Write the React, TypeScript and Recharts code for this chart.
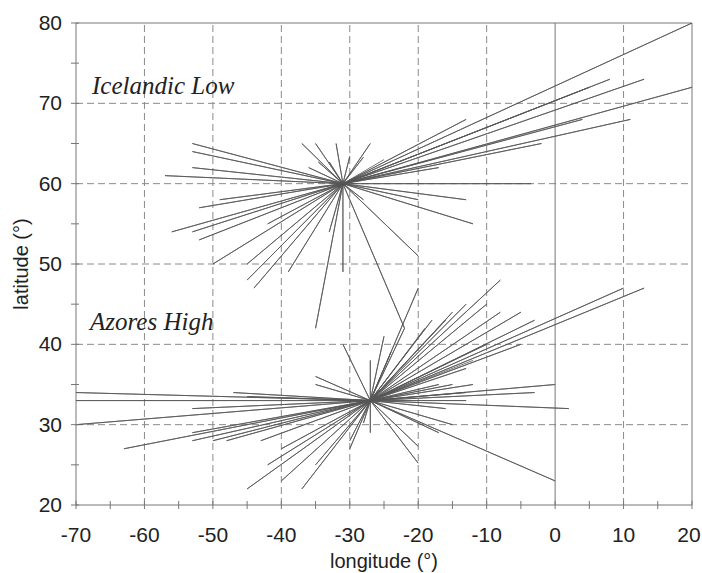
import React from 'react';
import {
  ScatterChart,
  Scatter,
  XAxis,
  YAxis,
  ReferenceLine,
} from 'recharts';

// ---- data ----
const icelandicCenter: [number, number] = [-31, 60];
const icelandicEnds: [number, number][] = [
  [-53, 65], [-53, 64], [-53, 62], [-57, 61], [-49, 58], [-52, 57], [-56, 54], [-53, 54], [-52, 53], [-50, 50],
  [-42, 55], [-45, 50], [-45, 48], [-44, 47], [-39, 49], [-35, 42], [-33, 54], [-31, 49], [-22, 42], [-20, 51],
  [-12, 55], [-13, 58], [-20, 58], [-28, 58], [-3.5, 60],
  [20, 80], [8, 73], [13, 73], [20, 72], [5, 72], [11, 68], [4, 68], [-2, 65], [-13, 68], [-17, 62],
  [-37, 65], [-35, 65], [-32, 65], [-27, 65], [-36, 62], [-34.6, 62.7], [-33, 62.7], [-30, 63.4], [-28, 63.3], [-25, 63],
];

const azoresCenter: [number, number] = [-27, 33];
const azoresEnds: [number, number][] = [
  [-70, 34], [-70, 33], [-70, 30], [-63, 27], [-53, 32], [-47, 34], [-45, 33.5], [-53, 29], [-53, 28], [-50, 28],
  [-48, 28], [-43, 28], [-40, 27], [-42, 25], [-45, 22], [-40, 23], [-37, 22], [-35, 25], [-35, 36], [-35, 35],
  [-31, 40], [-27, 38], [-27, 29], [-25, 41], [-20, 47], [-28, 30.2], [-30, 28], [-30, 27], [-20, 25.2], [-20, 27.3],
  [-8, 48], [-10, 45], [-13, 45], [-8, 44], [-5, 44], [-3, 43], [13, 47], [10, 47], [-5, 40], [-15, 44],
  [-18, 43], [-19, 42], [-16, 43], [-22, 42], [-13, 37], [-12, 35], [0, 35], [-3, 34], [2, 32], [-13, 34],
  [-13, 33], [-15, 35], [-16, 32], [-15, 30], [-17, 29], [0, 23], [-17, 35], [-24, 39], [-10, 40], [-12, 38],
];

const xTicks = [-70, -65, -60, -55, -50, -45, -40, -35, -30, -25, -20, -15, -10, -5, 0, 5, 10, 15, 20];
const yTicks = [20, 25, 30, 35, 40, 45, 50, 55, 60, 65, 70, 75, 80];
const xGridDashed = [-60, -50, -40, -30, -20, -10, 10];
const yGridDashed = [30, 40, 50, 60, 70];
const xSolid = [0, 20];
const ySolid = [80];

const labels = [
  { text: 'Icelandic Low', x: 92, y: 94 },
  { text: 'Azores High', x: 90, y: 330 },
];

// build star paths: center -> end -> center -> end ...
const star = (c: [number, number], ends: [number, number][]) =>
  ends.flatMap(([x, y]) => [
    { x: c[0], y: c[1] },
    { x, y },
  ]);

const icelandicData = star(icelandicCenter, icelandicEnds);
const azoresData = star(azoresCenter, azoresEnds);

const AXIS = '#777';
const LINE = '#555';
const GRID = '#8a8a8a';
const SANS = '"Liberation Sans", Arial, sans-serif';

const NoShape = () => <g />;

const XTick = (props: any) => {
  const { x, y, payload } = props;
  const v = payload.value;
  const dx = v === 20 ? -3 : 0;
  return (
    <g>
      <line x1={x} x2={x} y1={y - 4} y2={y + 4} stroke={AXIS} strokeWidth={1} />
      {v % 10 === 0 && (
        <text x={x + dx} y={y + 37} textAnchor="middle" fontSize={21} fill="#222" fontFamily={SANS}>
          {v}
        </text>
      )}
    </g>
  );
};

const YTick = (props: any) => {
  const { x, y, payload } = props;
  const v = payload.value;
  return (
    <g>
      <line x1={x - 5} x2={x + 3} y1={y} y2={y} stroke={AXIS} strokeWidth={1} />
      {v % 10 === 0 && (
        <text x={x - 14} y={y + 7} textAnchor="end" fontSize={21} fill="#222" fontFamily={SANS}>
          {v}
        </text>
      )}
    </g>
  );
};

const XTitle = (props: any) => {
  const vb = props.viewBox;
  return (
    <text x={vb.x + vb.width / 2} y={vb.y + 63} textAnchor="middle" fontSize={20} fill="#222" fontFamily={SANS}>
      longitude (°)
    </text>
  );
};

const YTitle = (props: any) => {
  const vb = props.viewBox;
  const cx = 28;
  const cy = vb.y + vb.height / 2;
  return (
    <text
      x={cx}
      y={cy}
      transform={`rotate(-90 ${cx} ${cy})`}
      textAnchor="middle"
      fontSize={20}
      fill="#222"
      fontFamily={SANS}
    >
      latitude (°)
    </text>
  );
};

export default function App() {
  return (
    <div style={{ position: 'absolute', left: 0, top: 0, width: 702, height: 573, background: '#fff' }}>
      <ScatterChart width={702} height={573} margin={{ top: 23, right: 10, left: 10, bottom: 18 }}>
        {xGridDashed.map((v) => (
          <ReferenceLine key={'xg' + v} x={v} stroke={GRID} strokeDasharray="7 4" strokeWidth={1} />
        ))}
        {yGridDashed.map((v) => (
          <ReferenceLine key={'yg' + v} y={v} stroke={GRID} strokeDasharray="7 4" strokeWidth={1} />
        ))}
        {xSolid.map((v) => (
          <ReferenceLine key={'xs' + v} x={v} stroke={AXIS} strokeWidth={1} />
        ))}
        {ySolid.map((v) => (
          <ReferenceLine key={'ys' + v} y={v} stroke={AXIS} strokeWidth={1} />
        ))}
        <XAxis
          type="number"
          dataKey="x"
          domain={[-70, 20]}
          ticks={xTicks}
          interval={0}
          allowDataOverflow
          height={50}
          tickSize={0}
          tickMargin={0}
          tickLine={false}
          axisLine={{ stroke: AXIS, strokeWidth: 1 }}
          tick={<XTick />}
          label={<XTitle />}
        />
        <YAxis
          type="number"
          dataKey="y"
          domain={[20, 80]}
          ticks={yTicks}
          interval={0}
          allowDataOverflow
          width={66}
          tickSize={0}
          tickMargin={0}
          tickLine={false}
          axisLine={{ stroke: AXIS, strokeWidth: 1 }}
          tick={<YTick />}
          label={<YTitle />}
        />
        <Scatter
          data={icelandicData}
          line={{ stroke: LINE, strokeWidth: 0.8 }}
          lineType="joint"
          shape={<NoShape />}
          isAnimationActive={false}
        />
        <Scatter
          data={azoresData}
          line={{ stroke: LINE, strokeWidth: 0.8 }}
          lineType="joint"
          shape={<NoShape />}
          isAnimationActive={false}
        />
      </ScatterChart>
      <svg width={702} height={573} style={{ position: 'absolute', left: 0, top: 0, pointerEvents: 'none' }}>
        {labels.map((l) => (
          <text
            key={l.text}
            x={l.x}
            y={l.y}
            fontSize={25}
            fontStyle="italic"
            fill="#222"
            fontFamily='"Liberation Serif", "Times New Roman", serif'
          >
            {l.text}
          </text>
        ))}
      </svg>
    </div>
  );
}
